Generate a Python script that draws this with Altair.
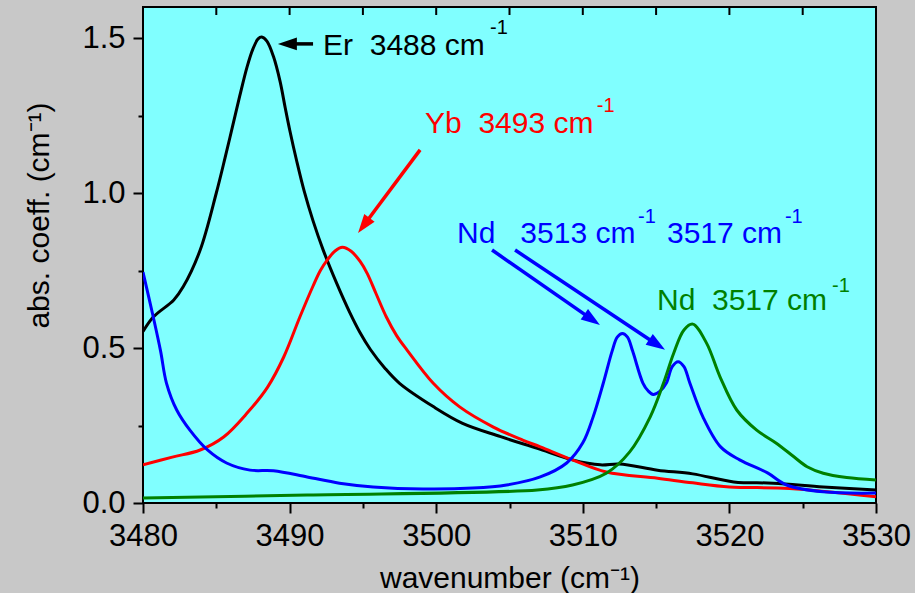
import math
import altair as alt
import pandas as pd

# ---- spectra (wavenumber in cm^-1, absorption coefficient in cm^-1) ----
wn_er = [3480.0, 3480.7, 3482.1, 3482.75, 3483.9, 3485.0, 3485.6, 3486.1, 3486.6, 3487.1,
         3487.5, 3487.85, 3488.1, 3488.45, 3488.9, 3489.35, 3489.7, 3490.0, 3490.5, 3491.0,
         3491.6, 3492.3, 3493.2, 3494.1, 3494.8, 3495.5, 3496.5, 3497.5, 3499.8, 3501.8,
         3504.4, 3506.9, 3509.3, 3511.2, 3512.5, 3515.1, 3517.5, 3520.3, 3523.0, 3526.4,
         3530.0]
ab_er = [0.553, 0.600, 0.655, 0.698, 0.816, 1.000, 1.114, 1.213, 1.313, 1.407,
         1.465, 1.497, 1.503, 1.490, 1.440, 1.360, 1.275, 1.205, 1.100, 1.005,
         0.910, 0.815, 0.710, 0.615, 0.550, 0.496, 0.435, 0.386, 0.311, 0.257,
         0.214, 0.176, 0.139, 0.123, 0.126, 0.106, 0.094, 0.068, 0.064, 0.052,
         0.042]

wn_yb = [3480.0, 3482.0, 3483.9, 3485.5, 3487.1, 3488.5, 3489.6, 3490.7, 3491.6, 3492.1,
         3492.6, 3493.1, 3493.6, 3494.2, 3494.8, 3495.3, 3495.9, 3496.6, 3497.3, 3498.0,
         3499.8, 3501.6, 3503.9, 3505.9, 3507.1, 3509.3, 3511.6, 3515.1, 3517.5, 3520.0,
         3524.1, 3530.0]
ab_yb = [0.123, 0.148, 0.171, 0.213, 0.290, 0.374, 0.471, 0.600, 0.700, 0.750,
         0.786, 0.813, 0.825, 0.812, 0.780, 0.740, 0.675, 0.600, 0.540, 0.494,
         0.386, 0.310, 0.245, 0.203, 0.181, 0.139, 0.100, 0.080, 0.065, 0.052,
         0.047, 0.020]

wn_nd = [3480.0, 3480.7, 3481.2, 3481.6, 3482.3, 3483.2, 3484.4, 3485.7, 3487.3, 3488.9,
         3491.2, 3493.4, 3495.7, 3499.1, 3502.5, 3504.8, 3507.1, 3508.9, 3510.0, 3510.7,
         3511.4, 3512.0, 3512.35, 3512.7, 3513.05, 3513.4, 3514.1, 3514.45, 3514.8, 3515.25,
         3515.7, 3516.1, 3516.5, 3516.9, 3517.3, 3518.2, 3519.4, 3520.7, 3522.6, 3523.9,
         3526.4, 3530.0]
ab_nd = [0.745, 0.600, 0.490, 0.387, 0.300, 0.235, 0.171, 0.129, 0.106, 0.104,
         0.084, 0.064, 0.052, 0.045, 0.048, 0.058, 0.084, 0.129, 0.194, 0.277,
         0.387, 0.490, 0.535, 0.547, 0.535, 0.490, 0.387, 0.362, 0.350, 0.360,
         0.387, 0.440, 0.456, 0.440, 0.387, 0.277, 0.181, 0.139, 0.097, 0.058,
         0.036, 0.032]

wn_nd2 = [3480.0, 3491.2, 3506.9, 3509.3, 3511.6, 3513.2, 3514.6, 3515.5, 3516.2, 3516.9,
          3517.5, 3518.45, 3519.36, 3520.5, 3521.86, 3523.2, 3524.4, 3525.3, 3526.4, 3528.0,
          3530.0]
ab_nd2 = [0.016, 0.026, 0.042, 0.058, 0.096, 0.165, 0.278, 0.386, 0.483, 0.558,
          0.577, 0.515, 0.407, 0.300, 0.235, 0.193, 0.149, 0.117, 0.096, 0.082,
          0.074]

series_names = ["Er", "Yb", "Nd", "Nd2"]
series_colors = ["#000000", "#ff0000", "#0000ff", "#008000"]

# ---- annotation texts (data coordinates, left-aligned, alphabetic baseline) ----
NB = "\u00a0"
label_text = ["Er" + NB * 2 + "3488 cm", "Yb" + NB * 2 + "3493 cm",
              "Nd" + NB * 3 + "3513 cm", "3517 cm", "Nd" + NB * 2 + "3517 cm"]
label_x = [3492.28, 3499.24, 3501.42, 3515.74, 3515.06]
label_y = [1.445, 1.194, 0.839, 0.839, 0.623]
label_color = ["#000000", "#ff0000", "#0000ff", "#0000ff", "#008000"]

sup_text = ["-1", "-1", "-1", "-1", "-1"]
sup_x = [3503.67, 3510.95, 3513.77, 3523.79, 3527.0]
sup_y = [1.513, 1.261, 0.903, 0.903, 0.680]
sup_color = label_color

# ---- arrows: start and tip in data coordinates ----
arrow_x0 = [3491.6, 3498.9, 3503.81, 3505.38]
arrow_y0 = [1.481, 1.139, 0.816, 0.816]
arrow_x1 = [3489.2, 3494.67, 3511.17, 3515.61]
arrow_y1 = [1.481, 0.871, 0.574, 0.494]
arrow_color = ["#000000", "#ff0000", "#0000ff", "#0000ff"]

# inward ticks along the top frame
top_tick_x = list(range(3485, 3530, 5))

X_DOMAIN = [3480, 3530]
Y_DOMAIN = [0, 1.6]
W, H = 733, 496
FONT = "Liberation Sans"

# spectra table
rows = []
for name, xs, ys in zip(series_names, [wn_er, wn_yb, wn_nd, wn_nd2],
                        [ab_er, ab_yb, ab_nd, ab_nd2]):
    for xv, yv in zip(xs, ys):
        rows.append({"series": name, "wn": xv, "ab": yv})
spectra = pd.DataFrame(rows)

labels = pd.DataFrame({"text": label_text, "x": label_x, "y": label_y, "color": label_color})
sups = pd.DataFrame({"text": sup_text, "x": sup_x, "y": sup_y, "color": sup_color})

# arrow shafts and heads, head geometry worked out in screen pixels
kx = W / (X_DOMAIN[1] - X_DOMAIN[0])
ky = H / (Y_DOMAIN[1] - Y_DOMAIN[0])
HEAD = 19
shafts, heads = [], []
for x0, y0, x1, y1, c in zip(arrow_x0, arrow_y0, arrow_x1, arrow_y1, arrow_color):
    dx, dy = (x1 - x0) * kx, -(y1 - y0) * ky
    n = math.hypot(dx, dy)
    ux, uy = dx / n, dy / n
    shafts.append({"x": x0, "y": y0,
                   "x2": x1 - 0.8 * HEAD * ux / kx, "y2": y1 + 0.8 * HEAD * uy / ky,
                   "color": c})
    heads.append({"x": x1 - 0.5 * HEAD * ux / kx, "y": y1 + 0.5 * HEAD * uy / ky,
                  "angle": math.degrees(math.atan2(uy, ux)) % 360, "color": c})
shafts = pd.DataFrame(shafts)
heads = pd.DataFrame(heads)

top_ticks = pd.DataFrame({"x": top_tick_x,
                          "y": [Y_DOMAIN[1]] * len(top_tick_x),
                          "y2": [Y_DOMAIN[1] - 8 / ky] * len(top_tick_x)})

xscale = alt.Scale(domain=X_DOMAIN, nice=False, zero=False)
yscale = alt.Scale(domain=Y_DOMAIN, nice=False, zero=False)

common_axis = dict(grid=False, domain=False, tickColor="#000000", tickWidth=2,
                   labelFont=FONT, labelFontSize=31, labelColor="#000000",
                   titleFont=FONT, titleFontSize=30, titleColor="#000000",
                   titleFontWeight="normal", labelFlush=False)

x_major = alt.Axis(orient="bottom", values=list(range(3480, 3531, 10)), tickSize=10,
                   labelPadding=8, title="wavenumber (cm⁻¹)", titleY=84,
                   titleBaseline="alphabetic", format="d", **common_axis)
y_major = alt.Axis(orient="left", values=[0, 0.5, 1.0, 1.5], tickSize=10, labelPadding=8,
                   format=".1f", title="abs. coeff. (cm⁻¹)", titleAngle=270,
                   titleX=-95, titleY=208, titleBaseline="alphabetic", **common_axis)
x_minor = alt.Axis(orient="bottom", values=list(range(3485, 3530, 10)), tickSize=5,
                   labels=False, title=None, **common_axis)
y_minor = alt.Axis(orient="left", values=[0.25, 0.75, 1.25], tickSize=5,
                   labels=False, title=None, **common_axis)

lines = alt.Chart(spectra).mark_line(strokeWidth=3, interpolate="catmull-rom", clip=True).encode(
    x=alt.X("wn:Q", scale=xscale, axis=x_major),
    y=alt.Y("ab:Q", scale=yscale, axis=y_major),
    color=alt.Color("series:N", scale=alt.Scale(domain=series_names, range=series_colors),
                    legend=None),
    detail="series:N",
)

text_main = alt.Chart(labels).mark_text(font=FONT, fontSize=30, align="left",
                                        baseline="alphabetic").encode(
    x=alt.X("x:Q", scale=xscale, axis=x_minor),
    y=alt.Y("y:Q", scale=yscale, axis=y_minor),
    text="text:N",
    color=alt.Color("color:N", scale=None),
)

text_sup = alt.Chart(sups).mark_text(font=FONT, fontSize=20, align="left",
                                     baseline="alphabetic").encode(
    x=alt.X("x:Q", scale=xscale, axis=None),
    y=alt.Y("y:Q", scale=yscale, axis=None),
    text="text:N",
    color=alt.Color("color:N", scale=None),
)

shaft_layer = alt.Chart(shafts).mark_rule(strokeWidth=3.5).encode(
    x=alt.X("x:Q", scale=xscale, axis=None),
    y=alt.Y("y:Q", scale=yscale, axis=None),
    x2="x2:Q",
    y2="y2:Q",
    color=alt.Color("color:N", scale=None),
)

head_layer = alt.Chart(heads).mark_point(
    shape="M1,0L-1,-0.68L-1,0.68Z", filled=True, opacity=1, size=HEAD * HEAD, strokeWidth=0
).encode(
    x=alt.X("x:Q", scale=xscale, axis=None),
    y=alt.Y("y:Q", scale=yscale, axis=None),
    angle=alt.Angle("angle:Q", scale=None),
    color=alt.Color("color:N", scale=None),
)

top_tick_layer = alt.Chart(top_ticks).mark_rule(strokeWidth=2, color="#000000").encode(
    x=alt.X("x:Q", scale=xscale, axis=None),
    y=alt.Y("y:Q", scale=yscale, axis=None),
    y2="y2:Q",
)

chart = alt.layer(lines, shaft_layer, head_layer, text_main, text_sup,
                  top_tick_layer).resolve_axis(
    x="independent", y="independent"
).properties(
    width=W,
    height=H,
    background="#c8c8c8",
    padding={"left": 143, "top": 7, "right": 39, "bottom": 90},
    autosize=alt.AutoSizeParams(type="none"),
).configure_view(
    fill="#80ffff",
    stroke="#000000",
    strokeWidth=2,
)

chart.save("out.html", embed_options={"renderer": "svg", "actions": False})
